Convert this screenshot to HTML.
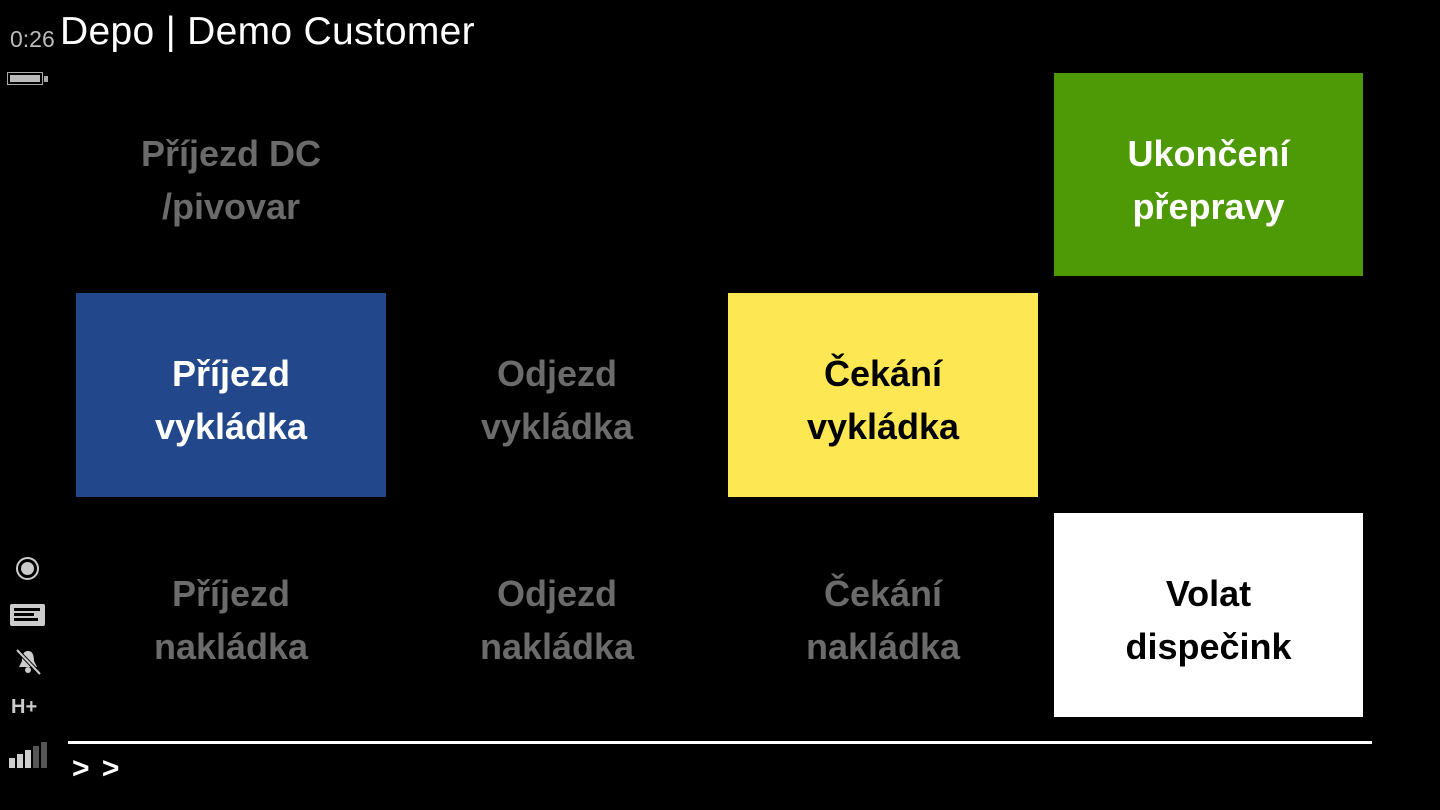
<!DOCTYPE html>
<html><head><meta charset="utf-8"><style>
html,body{margin:0;padding:0;background:#000;width:1440px;height:810px;overflow:hidden;font-family:"Liberation Sans","DejaVu Sans",sans-serif;}
.t{position:absolute;width:310px;height:203px;box-sizing:border-box;padding-top:10px;display:flex;align-items:center;justify-content:center;text-align:center;font-size:36px;font-weight:bold;line-height:53px;color:#6b6b6b;}
.abs{position:absolute;}
</style></head><body>
<div class="abs" style="left:10px;top:26px;font-size:23px;color:#bbb;">0:26</div>
<div class="abs" style="left:60px;top:10px;font-size:39px;color:#fff;letter-spacing:0.3px;">Depo | Demo Customer</div>
<div class="abs" style="left:7px;top:72px;width:36px;height:13px;border:1px solid #aaa;box-sizing:border-box;padding:2px;"><div style="background:#bbb;width:100%;height:100%"></div></div>
<div class="abs" style="left:44px;top:76px;width:4px;height:6px;background:#aaa"></div>

<div class="t" style="left:76px;top:73px;">Příjezd DC<br>/pivovar</div>
<div class="t" style="left:1054px;top:73px;width:309px;background:#4e9a06;color:#fff;">Ukončení<br>přepravy</div>
<div class="t" style="left:76px;top:293px;height:204px;background:#22478a;color:#fff;">Příjezd<br>vykládka</div>
<div class="t" style="left:402px;top:293px;height:204px;">Odjezd<br>vykládka</div>
<div class="t" style="left:728px;top:293px;height:204px;background:#fde853;color:#000;">Čekání<br>vykládka</div>
<div class="t" style="left:76px;top:513px;height:204px;">Příjezd<br>nakládka</div>
<div class="t" style="left:402px;top:513px;height:204px;">Odjezd<br>nakládka</div>
<div class="t" style="left:728px;top:513px;height:204px;">Čekání<br>nakládka</div>
<div class="t" style="left:1054px;top:513px;width:309px;height:204px;background:#fff;color:#000;">Volat<br>dispečink</div>

<div class="abs" style="left:16px;top:557px;width:23px;height:23px;border:2px solid #ccc;border-radius:50%;box-sizing:border-box;"></div>
<div class="abs" style="left:21px;top:562px;width:13px;height:13px;background:#ccc;border-radius:50%;"></div>
<div class="abs" style="left:10px;top:604px;width:35px;height:22px;background:#ccc;border-radius:2px;"></div>
<div class="abs" style="left:14px;top:608px;width:26px;height:3px;background:#000"></div>
<div class="abs" style="left:14px;top:613px;width:20px;height:3px;background:#000"></div>
<div class="abs" style="left:14px;top:618px;width:24px;height:3px;background:#000"></div>
<svg class="abs" style="left:14px;top:648px" width="28" height="28" viewBox="0 0 28 28"><path d="M14 3 C9 3 8 8 8 13 L5 19 L23 19 L20 13 C20 8 19 3 14 3Z" fill="#ccc"/><circle cx="14" cy="22" r="3" fill="#ccc"/><line x1="3" y1="2" x2="26" y2="26" stroke="#000" stroke-width="4"/><line x1="3" y1="2" x2="26" y2="26" stroke="#ccc" stroke-width="2"/></svg>
<div class="abs" style="left:11px;top:696px;font-size:20px;font-weight:bold;color:#ccc;">H+</div>
<div class="abs" style="left:9px;top:758px;width:6px;height:10px;background:#ccc"></div>
<div class="abs" style="left:17px;top:754px;width:6px;height:14px;background:#ccc"></div>
<div class="abs" style="left:25px;top:750px;width:6px;height:18px;background:#ccc"></div>
<div class="abs" style="left:33px;top:746px;width:6px;height:22px;background:#555"></div>
<div class="abs" style="left:41px;top:742px;width:6px;height:26px;background:#555"></div>

<div class="abs" style="left:68px;top:741px;width:1304px;height:3px;background:#fff"></div>
<div class="abs" style="left:72px;top:752px;font-size:30px;font-weight:bold;color:#fff;letter-spacing:2px;">&gt; &gt;</div>
</body></html>
